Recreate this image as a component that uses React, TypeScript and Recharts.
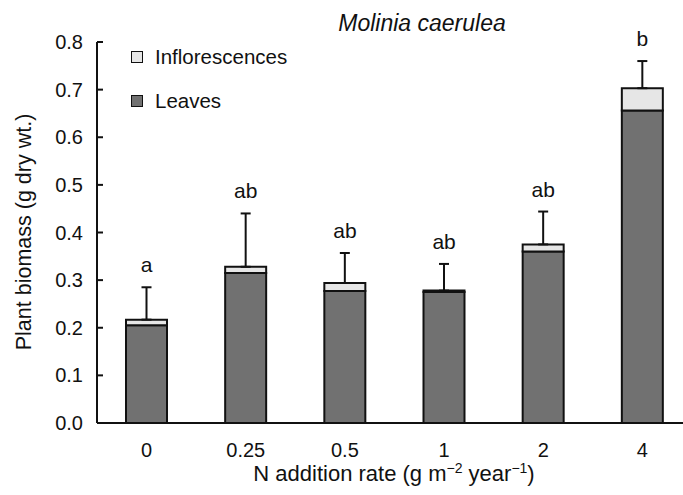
import React from 'react';
import {
  ComposedChart,
  Bar,
  Line,
  XAxis,
  YAxis,
  ErrorBar,
  LabelList,
  Legend,
  Customized,
} from 'recharts';

const categories = ['0', '0.25', '0.5', '1', '2', '4'];
const leaves = [0.205, 0.315, 0.277, 0.275, 0.36, 0.656];
const inflorescences = [0.012, 0.013, 0.017, 0.003, 0.015, 0.047];
const errorUpper = [0.068, 0.112, 0.063, 0.056, 0.069, 0.057];
const letters = ['a', 'ab', 'ab', 'ab', 'ab', 'b'];
const yTicks = [0, 0.1, 0.2, 0.3, 0.4, 0.5, 0.6, 0.7, 0.8];
const title = 'Molinia caerulea';
const yTitle = 'Plant biomass (g dry wt.)';

const data = categories.map((c, i) => ({
  rate: c,
  leaves: leaves[i],
  infl: inflorescences[i],
  err: [0, errorUpper[i]],
  errTop: leaves[i] + inflorescences[i] + errorUpper[i],
  letter: letters[i],
}));

const FONT = '"Liberation Sans", Arial, Helvetica, sans-serif';
const TICK_FS = 20;
const LETTER_FS = 21;
const LEAF_FILL = '#717171';
const INFL_FILL = '#e6e6e6';
const INK = '#111111';

const renderLegend = (props: any) => {
  const items = (props.payload || []).filter((p: any) => p.type !== 'none');
  const ordered = items.slice().sort((a: any, b: any) =>
    a.value === 'Inflorescences' ? -1 : b.value === 'Inflorescences' ? 1 : 0
  );
  return (
    <div style={{ fontFamily: FONT, fontSize: 20.5, color: INK }}>
      {ordered.map((p: any, i: number) => (
        <div
          key={p.value}
          style={{ display: 'flex', alignItems: 'center', height: 20, marginTop: i === 0 ? 0 : 24 }}
        >
          <span
            style={{
              display: 'inline-block',
              width: 10,
              height: 10,
              border: `1.5px solid ${INK}`,
              background: p.color,
              marginRight: 12,
            }}
          />
          <span>{p.value}</span>
        </div>
      ))}
    </div>
  );
};

const XTitle = () => (
  <text x={394} y={481} textAnchor="middle" fontFamily={FONT} fontSize={22} fill={INK}>
    <tspan>N addition rate (g m</tspan>
    <tspan fontSize={14} dy={-8}>−2</tspan>
    <tspan dy={8}> year</tspan>
    <tspan fontSize={14} dy={-8}>−1</tspan>
    <tspan dy={8}>)</tspan>
  </text>
);

const YTitle = () => (
  <text
    transform="translate(24,232) rotate(-90)"
    textAnchor="middle"
    dominantBaseline="central"
    fontFamily={FONT}
    fontSize={21.5}
    fill={INK}
  >
    {yTitle}
  </text>
);

const Title = () => (
  <text x={422} y={31} textAnchor="middle" fontFamily={FONT} fontSize={23} fontStyle="italic" fill={INK}>
    {title}
  </text>
);

export default function App() {
  return (
    <div style={{ position: 'absolute', left: 0, top: 0, width: 683, height: 495, overflow: 'hidden', background: '#fff' }}>
      <ComposedChart
        width={700}
        height={495}
        data={data}
        margin={{ top: 42, right: 8, bottom: 0, left: 0 }}
      >
        <XAxis
          dataKey="rate"
          height={72}
          tickLine={false}
          tickSize={0}
          tickMargin={20}
          axisLine={{ stroke: INK, strokeWidth: 2 }}
          tick={{ fill: INK, fontSize: TICK_FS, fontFamily: FONT }}
        />
        <YAxis
          width={97}
          domain={[0, 0.8]}
          ticks={yTicks}
          allowDataOverflow
          tickFormatter={(v: number) => v.toFixed(1)}
          tickSize={-6}
          tickMargin={20}
          axisLine={{ stroke: INK, strokeWidth: 2 }}
          tickLine={{ stroke: INK, strokeWidth: 2 }}
          tick={{ fill: INK, fontSize: TICK_FS, fontFamily: FONT }}
        />
        <Legend
          layout="horizontal"
          verticalAlign="middle"
          align="center"
          wrapperStyle={{ left: 131, top: 47, width: 250, height: 90 }}
          content={renderLegend}
        />
        <Bar
          dataKey="leaves"
          name="Leaves"
          stackId="s"
          fill={LEAF_FILL}
          stroke={INK}
          strokeWidth={2}
          barSize={41}
          isAnimationActive={false}
        />
        <Bar
          dataKey="infl"
          name="Inflorescences"
          stackId="s"
          fill={INFL_FILL}
          stroke={INK}
          strokeWidth={2}
          barSize={41}
          isAnimationActive={false}
        >
          <ErrorBar dataKey="err" width={5} stroke={INK} strokeWidth={2} direction="y" />
        </Bar>
        <Line
          dataKey="errTop"
          stroke="none"
          dot={false}
          activeDot={false}
          legendType="none"
          isAnimationActive={false}
        >
          <LabelList dataKey="letter" position="top" offset={15} fill={INK} fontSize={LETTER_FS} fontFamily={FONT} />
        </Line>
        <Customized component={Title} />
        <Customized component={XTitle} />
        <Customized component={YTitle} />
      </ComposedChart>
    </div>
  );
}
